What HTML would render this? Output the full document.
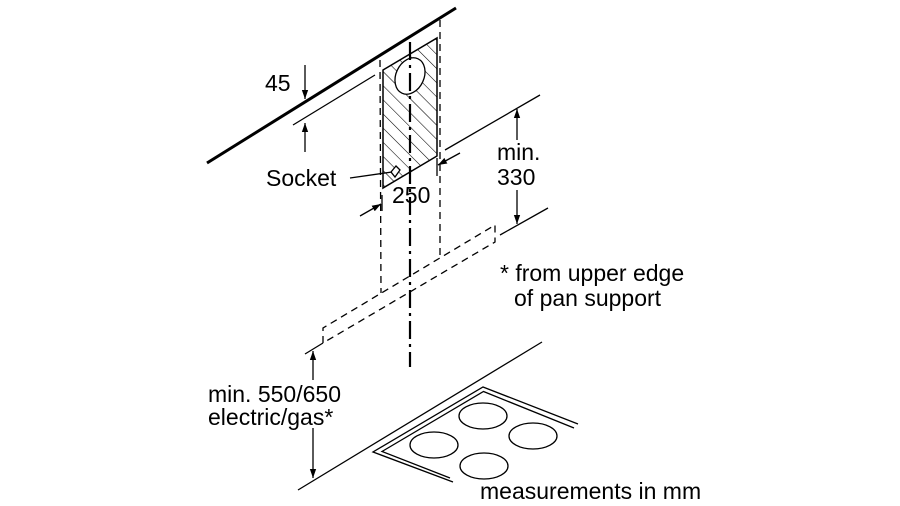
<!DOCTYPE html>
<html><head><meta charset="utf-8"><style>
html,body{margin:0;padding:0;background:#fff;}
svg{display:block;}
text{font-family:"Liberation Sans",Arial,sans-serif;font-size:23px;fill:#000;}
</style></head><body>
<svg width="900" height="506" viewBox="0 0 900 506" xmlns="http://www.w3.org/2000/svg">
<defs>
<pattern id="h" patternUnits="userSpaceOnUse" width="10" height="10" patternTransform="rotate(-45)">
<line x1="0" y1="0" x2="0" y2="10" stroke="#000" stroke-width="1.1"/>
</pattern>
<clipPath id="pc"><polygon points="383,70 437,38 437,156 383,188"/></clipPath>
<marker id="a" viewBox="0 0 10 10" refX="10" refY="5" markerWidth="9" markerHeight="9" orient="auto-start-reverse" markerUnits="userSpaceOnUse"><path d="M0,1.5 L10,5 L0,8.5 z" fill="#000"/></marker>
</defs>
<g stroke="#000" fill="none" stroke-width="1.3">
<line x1="207" y1="163" x2="456" y2="8" stroke-width="3"/>
<line x1="293" y1="125" x2="375" y2="75"/>
<line x1="305" y1="65" x2="305" y2="99" marker-end="url(#a)"/>
<line x1="305" y1="152" x2="305" y2="123" marker-end="url(#a)"/>
<rect x="380" y="30" width="60" height="165" fill="url(#h)" clip-path="url(#pc)" stroke="none"/>
<polygon points="383,70 437,38 437,156 383,188" stroke-width="1.5"/>
<ellipse cx="410" cy="76" rx="14" ry="19" transform="rotate(25 410 76)" fill="#fff"/>
<polygon points="391,172 396,166 400,170 395,177" fill="#fff"/>
<line x1="350" y1="178" x2="392" y2="172"/>
<line x1="380" y1="60" x2="381" y2="293" stroke-dasharray="7,5"/>
<line x1="440" y1="20" x2="440" y2="258" stroke-dasharray="7,5"/>
<line x1="410" y1="42" x2="410" y2="367" stroke-width="2.2" stroke-dasharray="18,5,3,5"/>
<line x1="382" y1="195" x2="382" y2="211"/>
<line x1="437" y1="158" x2="437" y2="176"/>
<line x1="360" y1="216" x2="381" y2="204" marker-end="url(#a)"/>
<line x1="460" y1="153" x2="438" y2="165" marker-end="url(#a)"/>
<line x1="445" y1="150" x2="540" y2="95"/>
<line x1="500" y1="235" x2="548" y2="208"/>
<line x1="517" y1="140" x2="517" y2="109" marker-end="url(#a)"/>
<line x1="517" y1="190" x2="517" y2="224" marker-end="url(#a)"/>
<polyline points="323,343 323,328 495,225 495,242 323,343" stroke-dasharray="7,5"/>
<line x1="305" y1="354" x2="323" y2="343"/>
<line x1="313" y1="380" x2="313" y2="351" marker-end="url(#a)"/>
<line x1="313" y1="428" x2="313" y2="478" marker-end="url(#a)"/>
<line x1="298" y1="490" x2="542" y2="342"/>
<polyline points="453,482 373,452 483,387 578,424"/>
<polyline points="450,478 382,451.5 483.5,391.5 574,428"/>
<ellipse cx="483" cy="416" rx="24" ry="13"/>
<ellipse cx="533" cy="436" rx="24" ry="13"/>
<ellipse cx="434" cy="445" rx="24" ry="13"/>
<ellipse cx="484" cy="466" rx="24" ry="13"/>
</g>
<text x="265" y="91">45</text>
<text x="266" y="186">Socket</text>
<text x="392" y="203">250</text>
<text x="497" y="160">min.</text>
<text x="497" y="185">330</text>
<text x="500" y="281">* from upper edge</text>
<text x="514" y="306">of pan support</text>
<text x="208" y="402">min. 550/650</text>
<text x="208" y="425">electric/gas*</text>
<text x="480" y="499">measurements in mm</text>
</svg>
</body></html>
